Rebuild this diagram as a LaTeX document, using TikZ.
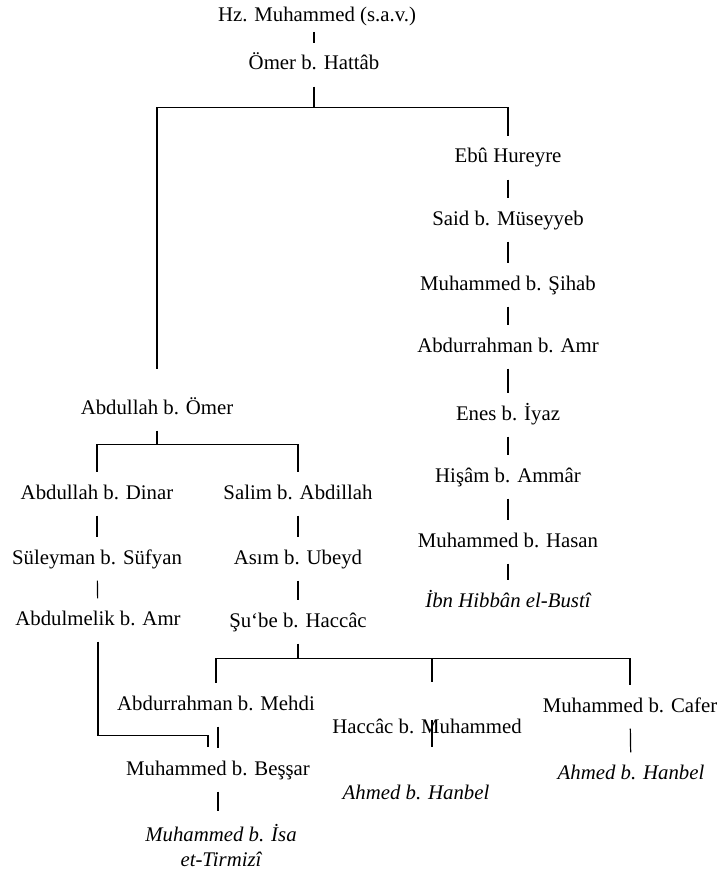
\documentclass[tikz,border=0pt]{standalone}
\usepackage{fontspec}
\setmainfont{Liberation Serif}

\tikzset{
  ravi/.style={font=\fontsize{15.6}{18.75}\selectfont, inner sep=0pt, text height=11pt, text depth=3.5pt, outer sep=9pt},
  musannif/.style={ravi, font=\fontsize{15.6}{18.75}\selectfont\itshape},
  hat/.style={line width=0.9pt}
}

\begin{document}
\begin{tikzpicture}[x=0.75pt,y=-0.75pt]
\useasboundingbox (0,0) rectangle (722,877);

% top of the chain
\node[ravi, outer sep=4pt] (hz) at (317,17) {Hz. Muhammed (s.a.v.)};
\node[ravi] (omer) at (314,65) {Ömer b. Hattâb};

% right branch
\node[ravi] (ebu) at (508,158) {Ebû Hureyre};
\node[ravi] (said) at (508,220) {Said b. Müseyyeb};
\node[ravi] (sihab) at (508,285) {Muhammed b. Şihab};
\node[ravi] (abdamr) at (508,347) {Abdurrahman b. Amr};
\node[ravi] (enes) at (508,415) {Enes b. İyaz};
\node[ravi] (hisam) at (508,477) {Hişâm b. Ammâr};
\node[ravi] (hasan) at (508,542) {Muhammed b. Hasan};
\node[musannif] (hibban) at (508,602) {İbn Hibbân el-Bustî};

% left branch
\node[ravi] (abdomer) at (157,409) {Abdullah b. Ömer};
\node[ravi] (dinar) at (97,494) {Abdullah b. Dinar};
\node[ravi] (salim) at (298,494) {Salim b. Abdillah};
\node[ravi] (suleyman) at (97,559) {Süleyman b. Süfyan};
\node[ravi] (asim) at (298,559) {Asım b. Ubeyd};
\node[ravi] (abdulmelik) at (98,620) {Abdulmelik b. Amr};
\node[ravi] (sube) at (298,622) {Şu‘be b. Haccâc};

% bottom row
\node[ravi] (mehdi) at (216,705) {Abdurrahman b. Mehdi};
\node[ravi] (haccac) at (427,728) {Haccâc b. Muhammed};
\node[ravi] (cafer) at (630,707) {Muhammed b. Cafer};
\node[ravi] (bessar) at (218,770) {Muhammed b. Beşşar};
\node[musannif] (ahmeda) at (416,794) {Ahmed b. Hanbel};
\node[musannif] (ahmedb) at (631,774) {Ahmed b. Hanbel};
\node[musannif, text height=, text depth=, align=center, outer sep=10.5pt] (tirmizi) at (221,846) {Muhammed b. İsa\\et-Tirmizî};

\coordinate (hactop) at (432,682);
\coordinate (hacA) at (432,720);
\coordinate (hacB) at (432,747);

% connectors
\draw[hat] (omer |- hz.south) -- (omer);
\draw[hat] (omer.south) -- ++(0,21) coordinate (b1);
\draw[hat] (b1) -| (ebu);
\draw[hat] (b1) -| ([yshift=14pt]abdomer.north);
\draw[hat] (ebu) -- (said);
\draw[hat] (said) -- (sihab);
\draw[hat] (sihab) -- (abdamr);
\draw[hat] (abdamr) -- (enes);
\draw[hat] (enes) -- (hisam);
\draw[hat] (hisam) -- (hasan);
\draw[hat] (hasan) -- (hibban);

\draw[hat] (abdomer.south) -- ++(0,14) coordinate (b2);
\draw[hat] (b2) -| (dinar);
\draw[hat] (b2) -| (salim);
\draw[hat] (dinar) -- (suleyman);
\draw[hat] (suleyman) -- (abdulmelik);
\draw[hat] (salim) -- (asim);
\draw[hat] (asim) -- (sube);

\draw[hat] (sube.south) -- ++(0,15) coordinate (b3);
\draw[hat] (b3) -| (mehdi);
\draw[hat] (b3) -| (hactop);
\draw[hat] (b3) -| (cafer);
\draw[hat] (hacA) -- (hacB);
\draw[hat] (cafer) -- (ahmedb);
\draw[hat] (mehdi.south -| bessar) -- (bessar);
\draw[hat] (abdulmelik.south) -- ++(0,94) -| ([xshift=-7.5pt,yshift=1pt]bessar.north);
\draw[hat] (bessar) -- (bessar |- tirmizi.north);

\end{tikzpicture}
\end{document}
